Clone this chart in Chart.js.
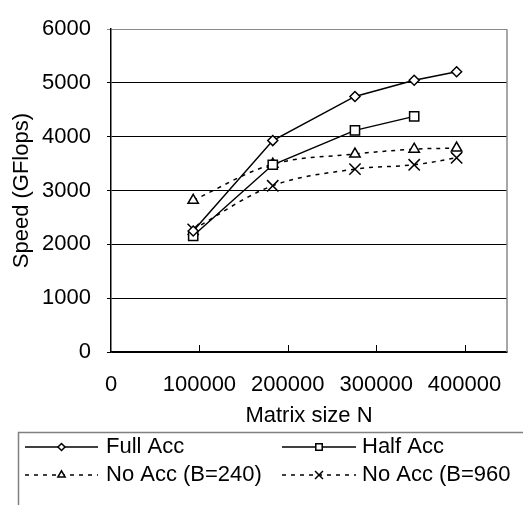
<!DOCTYPE html>
<html>
<head>
<meta charset="utf-8">
<script src="https://cdn.jsdelivr.net/npm/chart.js@4/dist/chart.umd.min.js"></script>
<style>
  html, body { margin: 0; padding: 0; background: #fff; }
  #wrap { width: 523px; height: 505px; }
</style>
</head>
<body>
<div id="wrap"><canvas id="c" width="523" height="505"></canvas></div>
<script>
// ---- data ----
const matrixSizes = [93000, 183000, 276000, 343000, 391000];
const fullAcc     = [2250, 3930, 4750, 5050, 5210];
const halfAcc     = [2160, 3480, 4120, 4380];
const noAcc240    = [2820, 3490, 3680, 3770, 3790];
const noAcc960    = [2280, 3090, 3400, 3480, 3610];
const seriesNames = ['Full Acc', 'Half Acc', 'No Acc (B=240)', 'No Acc (B=960'];
const xTicks = [0, 100000, 200000, 300000, 400000];
const yTicks = [0, 1000, 2000, 3000, 4000, 5000, 6000];

const FONT = "'Liberation Sans', Arial, Helvetica, sans-serif";
const pts = (ys) => ys.map((y, i) => ({ x: matrixSizes[i], y: y }));

const datasets = [
  { label: seriesNames[0], data: pts(fullAcc), borderColor: '#000', borderWidth: 1.5,
    pointStyle: 'rectRot', pointRadius: 5, pointBackgroundColor: '#fff', pointBorderColor: '#000', pointBorderWidth: 1.5, tension: 0 },
  { label: seriesNames[1], data: pts(halfAcc), borderColor: '#000', borderWidth: 1.5,
    pointStyle: 'rect', pointRadius: 6.5, pointBackgroundColor: '#fff', pointBorderColor: '#000', pointBorderWidth: 1.5, tension: 0 },
  { label: seriesNames[2], data: pts(noAcc240), borderColor: '#000', borderWidth: 1.5, borderDash: [4, 5],
    pointStyle: 'triangle', pointRadius: 6, pointBackgroundColor: '#fff', pointBorderColor: '#000', pointBorderWidth: 1.5, tension: 0.35 },
  { label: seriesNames[3], data: pts(noAcc960), borderColor: '#000', borderWidth: 1.5, borderDash: [4, 5],
    pointStyle: 'crossRot', pointRadius: 8, pointBackgroundColor: '#fff', pointBorderColor: '#000', pointBorderWidth: 1.5, tension: 0.35 }
];

function drawMarker(ctx, style, x, y, r) {
  ctx.save();
  ctx.beginPath();
  ctx.setLineDash([]);
  if (style === 'rectRot') {
    ctx.moveTo(x, y - r); ctx.lineTo(x + r, y); ctx.lineTo(x, y + r); ctx.lineTo(x - r, y); ctx.closePath();
    ctx.fill(); ctx.stroke();
  } else if (style === 'rect') {
    const s = r * Math.SQRT1_2;
    ctx.rect(x - s, y - s, 2 * s, 2 * s); ctx.fill(); ctx.stroke();
  } else if (style === 'triangle') {
    const w = r * Math.sqrt(3) / 2;
    ctx.moveTo(x, y - r); ctx.lineTo(x + w, y + r / 2); ctx.lineTo(x - w, y + r / 2); ctx.closePath();
    ctx.fill(); ctx.stroke();
  } else if (style === 'crossRot') {
    const s = r * Math.SQRT1_2;
    ctx.moveTo(x - s, y - s); ctx.lineTo(x + s, y + s);
    ctx.moveTo(x + s, y - s); ctx.lineTo(x - s, y + s);
    ctx.stroke();
  }
  ctx.restore();
}

const extras = {
  id: 'extras',
  afterDraw(chart) {
    const ctx = chart.ctx;
    const a = chart.chartArea;
    const xs = chart.scales.x;
    ctx.save();
    // right plot border (grey)
    ctx.strokeStyle = '#8a8a8a';
    ctx.lineWidth = 1.5;
    ctx.beginPath();
    ctx.moveTo(a.right, a.top); ctx.lineTo(a.right, a.bottom);
    ctx.stroke();
    // inner tick marks on x axis
    ctx.strokeStyle = '#000';
    ctx.lineWidth = 1;
    xTicks.forEach(v => {
      if (v === 0) return;
      const px = Math.round(xs.getPixelForValue(v)) + 0.5;
      ctx.beginPath();
      ctx.moveTo(px, a.bottom); ctx.lineTo(px, a.bottom - 7);
      ctx.stroke();
    });
    // legend box
    ctx.strokeStyle = '#808080';
    ctx.lineWidth = 1.5;
    ctx.strokeRect(18.5, 432.5, 600, 200);
    // legend items
    const cols = [{ x0: 25, x1: 98, tx: 106 }, { x0: 282, x1: 356, tx: 362 }];
    const rows = [447, 475];
    ctx.font = '22px ' + FONT;
    ctx.textBaseline = 'middle';
    ctx.textAlign = 'left';
    chart.data.datasets.forEach((ds, i) => {
      const c = cols[i % 2], y = rows[Math.floor(i / 2)];
      ctx.strokeStyle = '#000';
      ctx.fillStyle = '#fff';
      ctx.lineWidth = 1.5;
      ctx.setLineDash(ds.borderDash || []);
      ctx.beginPath();
      ctx.moveTo(c.x0, y); ctx.lineTo(c.x1, y);
      ctx.stroke();
      ctx.setLineDash([]);
      drawMarker(ctx, ds.pointStyle, (c.x0 + c.x1) / 2, y, ds.pointRadius * 0.7);
      ctx.fillStyle = '#000';
      ctx.fillText(ds.label, c.tx, y);
    });
    ctx.restore();
  }
};

new Chart(document.getElementById('c'), {
  type: 'line',
  data: { datasets: datasets },
  plugins: [extras],
  options: {
    responsive: false,
    animation: false,
    layout: { padding: { top: 18, right: 16, bottom: 73, left: 0 } },
    plugins: { legend: { display: false }, tooltip: { enabled: false } },
    scales: {
      x: {
        type: 'linear',
        min: 0,
        max: 448000,
        afterBuildTicks: (s) => { s.ticks = xTicks.map(v => ({ value: v })); },
        afterFit: (s) => { s.height = 80; },
        grid: { display: false, drawTicks: false },
        border: { display: true, color: '#000', width: 1.5 },
        ticks: { color: '#000', font: { family: FONT, size: 22 }, padding: 20, maxRotation: 0, autoSkip: false,
                 callback: (v) => String(v) },
        title: { display: true, text: 'Matrix size N', color: '#000', font: { family: FONT, size: 22 }, padding: { top: 0, bottom: 3 } }
      },
      y: {
        type: 'linear',
        min: 0,
        max: 6000,
        afterBuildTicks: (s) => { s.ticks = yTicks.map(v => ({ value: v })); },
        afterFit: (s) => { s.width = 111; },
        grid: { color: (ctx) => (ctx.tick && ctx.tick.value === 6000) ? '#8a8a8a' : '#000', lineWidth: 1, tickLength: 4, drawTicks: true },
        border: { display: true, color: '#000', width: 1.5 },
        ticks: { color: '#000', font: { family: FONT, size: 22 }, padding: 16, callback: (v) => String(v) },
        title: { display: true, text: 'Speed (GFlops)', color: '#000', font: { family: FONT, size: 22 }, padding: { top: 9, bottom: 0 } }
      }
    }
  }
});
</script>
</body>
</html>
